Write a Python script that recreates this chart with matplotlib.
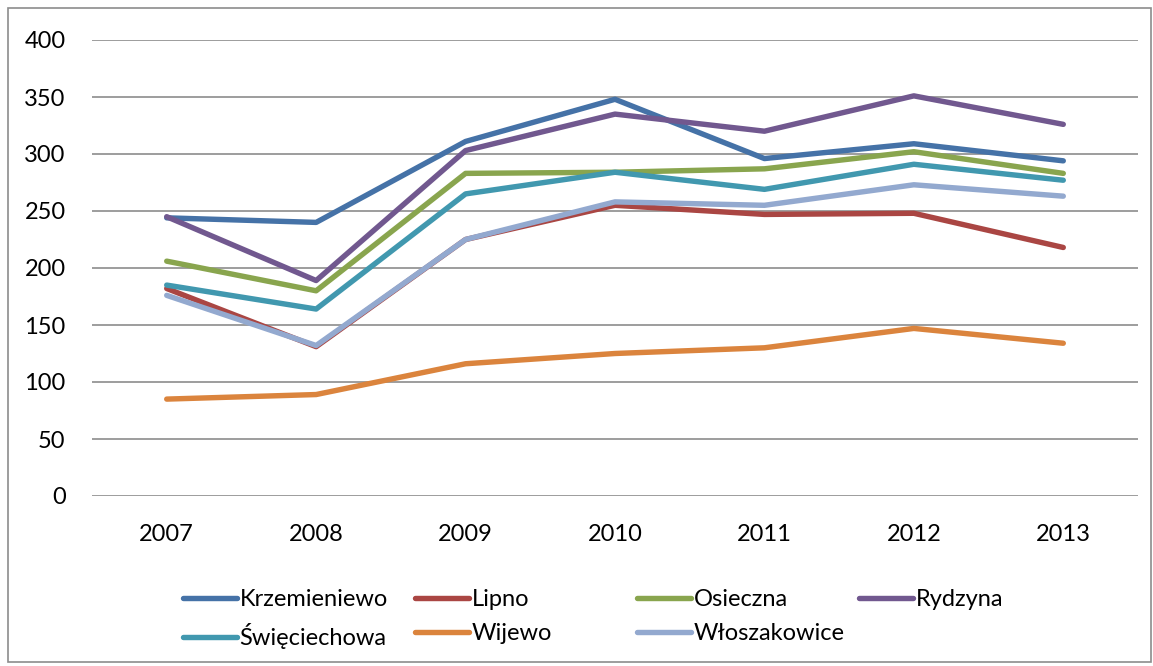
import matplotlib
matplotlib.use("Agg")
from matplotlib import pyplot as plt
from matplotlib.patches import Rectangle

years = ["2007", "2008", "2009", "2010", "2011", "2012", "2013"]
krzemieniewo = [244, 240, 311, 348, 296, 309, 294]
lipno = [182, 131, 225, 255, 247, 248, 218]
osieczna = [206, 180, 283, 284, 287, 302, 283]
rydzyna = [245, 189, 303, 335, 320, 351, 326]
swieciechowa = [185, 164, 265, 284, 269, 291, 277]
wijewo = [85, 89, 116, 125, 130, 147, 134]
wloszakowice = [176, 132, 225, 258, 255, 273, 263]

names = ["Krzemieniewo", "Lipno", "Osieczna", "Rydzyna",
         "Święciechowa", "Wijewo", "Włoszakowice"]
series = [krzemieniewo, lipno, osieczna, rydzyna, swieciechowa, wijewo, wloszakowice]
colors = ["#4572A7", "#AA4643", "#89A54E", "#71588F", "#4198AF", "#DB843D", "#93A9CF"]

plt.rcParams['font.family'] = ['Lato', 'DejaVu Sans']

fig = plt.figure(figsize=(11.53, 6.66), dpi=100)
ax = fig.add_axes([92 / 1153, 1 - 496 / 666, (1138 - 92) / 1153, (496 - 40) / 666])

x = range(len(years))
lines = []
for name, vals, c in zip(names, series, colors):
    ln, = ax.plot(x, vals, color=c, lw=3.9, solid_capstyle='round',
                  solid_joinstyle='round', label=name)
    lines.append(ln)

ax.set_xlim(-0.5, len(years) - 0.5)
ax.set_ylim(0, 400)
ax.set_yticks(range(0, 401, 50))
ax.set_xticks(list(x))
ax.set_xticklabels(years)
ax.grid(axis='y', color='#8C8C8C', lw=1.2)
ax.set_axisbelow(True)
for s in ax.spines.values():
    s.set_visible(False)
ax.tick_params(length=0, labelsize=17, colors='black')
ax.tick_params(axis='y', pad=19)
ax.tick_params(axis='x', pad=20)

# outer chart border
fig.patches.append(Rectangle((8 / 1153, 4 / 666), 1143 / 1153, 654 / 666,
                             transform=fig.transFigure, fill=False,
                             edgecolor='#8C8C8C', lw=1.2))

# legend, 4 columns laid out like Excel
col_x = [183, 415, 637, 859]
cols = [[0, 4], [1, 5], [2, 6], [3]]
for cx, idx in zip(col_x, cols):
    fig.legend([lines[i] for i in idx], [names[i] for i in idx],
               loc='upper left', bbox_to_anchor=(cx / 1153, 1 - 589 / 666),
               frameon=False, fontsize=17, handlelength=2.3,
               handletextpad=0.1, labelspacing=0.55, borderpad=0,
               borderaxespad=0)

fig.savefig("out.png", dpi=100)
